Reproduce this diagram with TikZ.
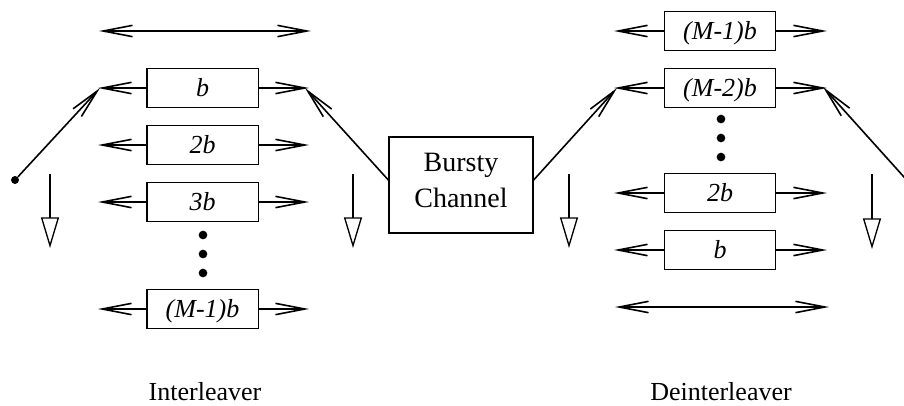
\documentclass[tikz,border=0pt]{standalone}
\usepackage{fontspec}
\setmainfont{Liberation Serif}
\usetikzlibrary{arrows.meta}
\begin{document}
\begin{tikzpicture}[x=0.75pt,y=-0.75pt,
  >={Straight Barb[length=22pt,width=8.5pt]},
  cell/.style={draw, line width=1pt, minimum width=83.5pt, minimum height=29.5pt,
    inner sep=0pt, font=\fontsize{19.5}{22}\selectfont\itshape,
    text height=12.9pt, text depth=0pt},
  flow/.style={line width=1.2pt, ->},
  both/.style={line width=1.2pt, <->},
  sink/.style={line width=1pt, -{Triangle[open,length=23pt,width=13.5pt,line width=1pt]}},
  bead/.style={circle, fill, inner sep=0pt, minimum size=6.5pt},
  caption/.style={font=\fontsize{19.5}{22}\selectfont, anchor=base},
]
\useasboundingbox (0,0) rectangle (904,405);

% ---------------- interleaver ----------------
\node[cell] (i1) at (202.5,88)  {b};
\node[cell] (i2) at (202.5,145) {2b};
\node[cell] (i3) at (202.5,202) {3b};
\node[cell] (im) at (202.5,309) {(M-1)b};
\node[bead] (id1) at (203,235) {};
\node[bead] (id2) at (203,254) {};
\node[bead] (id3) at (203,273) {};

\foreach \r/\y in {i1/88, i2/145, i3/202, im/309} {
  \coordinate (\r l) at (98,\y);
  \coordinate (\r r) at (309,\y);
  \draw[flow] (\r.west) -- (\r l);
  \draw[flow] (\r.east) -- (\r r);
}
\coordinate (itl) at (99,31);
\coordinate (itr) at (311,31);
\draw[both] (itl) -- (itr);

% input switch
\node[circle, fill, inner sep=0pt, minimum size=6pt] (src) at (15,180) {};
\coordinate (ina) at (100,88);
\draw[flow] (src) -- (ina);
\coordinate (ida) at (50,174);
\coordinate (idb) at (50,248);
\draw[sink] (ida) -- (idb);

% ---------------- channel ----------------
\node[draw, line width=1pt, minimum width=108pt, minimum height=72pt, inner sep=0pt,
  font=\fontsize{21}{27}\selectfont] (ch) at (461,185)
  {\raisebox{3.5pt}[\height][\depth]{\parbox{100pt}{\centering Bursty\\Channel}}};

\coordinate (outa) at (305,88);
\draw[flow] ([yshift=3.75pt]ch.west) -- (outa);
\coordinate (oda) at (353,174);
\coordinate (odb) at (353,248);
\draw[sink] (oda) -- (odb);

\coordinate (dina) at (617,88);
\draw[flow] ([yshift=3.75pt]ch.east) -- (dina);
\coordinate (dda) at (569,174);
\coordinate (ddb) at (569,248);
\draw[sink] (dda) -- (ddb);

% ---------------- deinterleaver ----------------
\node[cell] (d1) at (720,31)  {(M-1)b};
\node[cell] (d2) at (720,88)  {(M-2)b};
\node[cell] (d3) at (720,193) {2b};
\node[cell] (d4) at (720,250) {b};
\node[bead] (dd1) at (721,119) {};
\node[bead] (dd2) at (721,138) {};
\node[bead] (dd3) at (721,157) {};

\foreach \r/\y in {d1/31, d2/88, d3/193, d4/250} {
  \coordinate (\r l) at (614,\y);
  \coordinate (\r r) at (827,\y);
  \draw[flow] (\r.west) -- (\r l);
  \draw[flow] (\r.east) -- (\r r);
}
\coordinate (dbl) at (615,307);
\coordinate (dbr) at (829,307);
\draw[both] (dbl) -- (dbr);

% output switch
\coordinate (oute) at (913,187);
\coordinate (outt) at (823,87);
\draw[flow] (oute) -- (outt);
\coordinate (eda) at (872,174);
\coordinate (edb) at (872,249);
\draw[sink] (eda) -- (edb);

% ---------------- captions ----------------
\node[caption] (capi) at (205,400) {Interleaver};
\node[caption] (capd) at (721,400) {Deinterleaver};
\end{tikzpicture}
\end{document}
